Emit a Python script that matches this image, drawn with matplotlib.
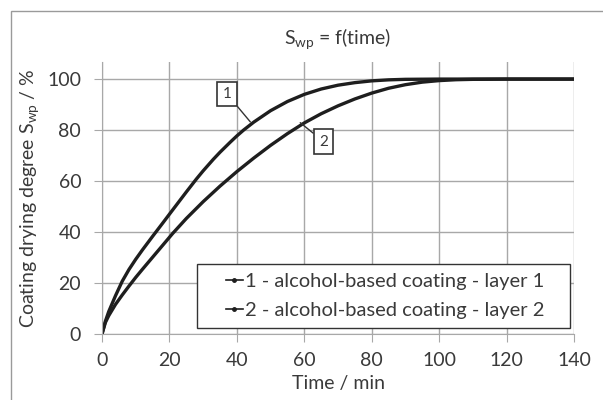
import numpy as np
import matplotlib
matplotlib.use('Agg')
import matplotlib.pyplot as plt
from matplotlib.patches import Rectangle
from matplotlib.lines import Line2D

plt.rcParams['font.family'] = ['Lato', 'DejaVu Sans']
plt.rcParams['mathtext.default'] = 'regular'

# drying curves
time_1 = [0, 1, 2, 4, 6, 8, 10, 12, 15, 18, 20, 25, 28, 30, 33, 35, 38, 40, 42, 45, 50,
          55, 60, 65, 70, 75, 80, 85, 90, 100, 110, 120, 130, 140]
swp_1 = [0, 5, 8.8, 15, 20.7, 25.3, 29.3, 33, 38.3, 43.5, 47, 55.7, 60.8, 64, 68.5, 71.3,
         75.2, 77.7, 80, 83.1, 87.6, 91.2, 94, 96.1, 97.6, 98.6, 99.3, 99.7, 99.9,
         100, 100, 100, 100, 100]

time_2 = [0, 1, 2, 4, 6, 8, 10, 12, 15, 18, 21, 25, 30, 35, 40, 45, 50, 55, 60, 65,
          70, 75, 80, 85, 90, 95, 100, 105, 110, 120, 130, 140]
swp_2 = [0, 4.5, 7.2, 11.6, 15.3, 18.8, 22.2, 25.4, 30.1, 34.8, 39.5, 45.3, 51.9, 58,
         63.7, 69, 74, 78.6, 82.8, 86.4, 89.5, 92.2, 94.5, 96.4, 97.8, 98.8, 99.4, 99.75,
         99.9, 100, 100, 100]

labels = ['1 - alcohol-based coating - layer 1', '2 - alcohol-based coating - layer 2']
x_ticks = [0, 20, 40, 60, 80, 100, 120, 140]
y_ticks = [0, 20, 40, 60, 80, 100]

text_col = '#3a3a3a'
grid_col = '#a8a8a8'
line_col = '#1e1e1e'
fs = 14

fig = plt.figure(figsize=(6.03, 4.0), dpi=100)
ax = fig.add_axes([102 / 603, 66 / 400, 472 / 603, 272 / 400])

ax.plot(time_1, swp_1, color=line_col, lw=2.4, solid_capstyle='round')
ax.plot(time_2, swp_2, color=line_col, lw=2.4, solid_capstyle='round')

ax.set_xlim(0, 140)
ax.set_ylim(0, 106.7)
ax.set_xticks(x_ticks)
ax.set_yticks(y_ticks)
ax.grid(True, color=grid_col, lw=1)
ax.set_axisbelow(True)
for s in ['top', 'right']:
    ax.spines[s].set_visible(False)
for s in ['left', 'bottom']:
    ax.spines[s].set_color(grid_col)
ax.tick_params(axis='both', direction='out', length=6, color=grid_col,
               labelsize=fs, labelcolor=text_col)
ax.tick_params(axis='x', pad=7)
ax.tick_params(axis='y', pad=9)

# numbered callouts
box = dict(boxstyle='square,pad=0.35', fc='white', ec='#333333', lw=1.2)
ax.annotate('1', xy=(44, 83.2), xytext=(37.1, 94.1), ha='center', va='center',
            fontsize=11, color=text_col, bbox=box,
            arrowprops=dict(arrowstyle='-', color='#333333', lw=1, shrinkA=0, shrinkB=0))
ax.annotate('2', xy=(58.8, 82.9), xytext=(65.7, 75.5), ha='center', va='center',
            fontsize=11, color=text_col, bbox=box,
            arrowprops=dict(arrowstyle='-', color='#333333', lw=1, shrinkA=0, shrinkB=0))

# legend: wide frame drawn by hand, entries placed inside
ax.add_patch(Rectangle((0.201, 0.022), 0.79, 0.235, transform=ax.transAxes,
                       fc='white', ec='#333333', lw=1, zorder=4))
handles = [Line2D([], [], color=line_col, lw=1.2, marker='o', ms=2.5) for _ in labels]
leg = ax.legend(handles, labels, loc='center left', bbox_to_anchor=(0.262, 0.14),
                fontsize=14.5, frameon=False, handlelength=0.85, handletextpad=0.1,
                borderpad=0, labelspacing=0.55, borderaxespad=0)
leg.set_zorder(5)
for t in leg.get_texts():
    t.set_color(text_col)

fig.text(338 / 603, 1 - 39 / 400, 'S$_{wp}$ = f(time)', ha='center', va='center',
         fontsize=fs, color=text_col)
fig.text(338 / 603, 1 - 384 / 400, 'Time / min', ha='center', va='center',
         fontsize=fs, color=text_col)
fig.text(30 / 603, 1 - 198 / 400, 'Coating drying degree S$_{wp}$ / %', ha='center',
         va='center', rotation=90, fontsize=fs, color=text_col)

fig.patches.append(Rectangle((11 / 603, -0.02), 1.0, 389 / 400 + 0.02, fill=False,
                             ec='#9a9a9a', lw=1, transform=fig.transFigure, figure=fig))

fig.savefig('out.png', dpi=100)
